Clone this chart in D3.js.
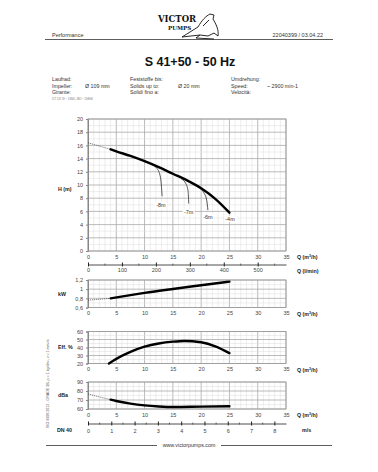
<!DOCTYPE html>
<html>
<head>
<meta charset="utf-8">
<script src="https://cdn.jsdelivr.net/npm/d3@7"></script>
<style>
  body { margin: 0; background: #fff; }
  svg { display: block; font-family: "Liberation Sans", Arial, sans-serif; }
  .tick text { fill: #444; }
</style>
</head>
<body>
<svg id="chart" width="378" height="472"></svg>
<script>
// head curve H(m) vs Q (m3/h)
const headDash = [[0, 16.4], [2, 15.9], [4, 15.4]];
const headQ = [4, 5, 7.5, 10, 12.5, 15, 17.5, 20, 22.5, 25];
const headH = [15.4, 15.1, 14.4, 13.6, 12.7, 11.7, 10.7, 9.5, 7.9, 5.8];
// suction branches
const branchLabels = ["-8m", "-7m", "-6m", "-4m"];
const branches = [
  [[11.2, 13.1], [12.2, 12.5], [12.8, 11.2], [13.0, 9.6], [13.1, 8.3]],
  [[16.5, 10.9], [17.3, 10.2], [17.7, 9.0], [17.8, 7.2]],
  [[19.7, 9.5], [20.5, 8.8], [21.0, 7.6], [21.2, 6.2]]
];
const branchLabelPos = [[12.9, 6.6], [17.8, 5.6], [21.2, 4.8], [25.1, 4.6]];
// power kW
const kwDash = [[0, 0.76], [2, 0.78], [4, 0.80]];
const kwQ = [4, 10, 15, 20, 25];
const kwV = [0.80, 0.92, 1.005, 1.085, 1.165];
// efficiency %
const effQ = [3.7, 5, 7.5, 10, 12.5, 15, 17, 20, 22.5, 25];
const effV = [20, 25.8, 34.5, 41, 45, 47.3, 48.2, 46.5, 41.5, 33];
// noise dBa
const dbDash = [[0, 76.7], [2, 73.5], [4, 70.4]];
const dbQ = [4, 5, 7.5, 10, 12.5, 15, 20, 25];
const dbV = [70.4, 68.9, 66.0, 64.0, 62.8, 62.2, 62.6, 63.0];

const qTicks = [0, 5, 10, 15, 20, 25, 30, 35];
const lminTicks = [0, 100, 200, 300, 400, 500];
const msTicks = [0, 1, 2, 3, 4, 5, 6, 7, 8];

const svg = d3.select("#chart");
const L = 88, R = 286;
const x = d3.scaleLinear().domain([0, 35]).range([L, R]);

function txt(g, x0, y0, s, size, opts = {}) {
  return g.append("text").attr("x", x0).attr("y", y0).attr("font-size", size)
    .attr("fill", opts.fill || "#222").attr("font-weight", opts.bold ? "bold" : null)
    .attr("text-anchor", opts.anchor || "start").text(s);
}

// header
txt(svg, 52, 37, "Performance", 5.5, {fill: "#333"});
txt(svg, 323, 37, "22040399 /  03.04.22", 5.5, {fill: "#333", anchor: "end"});
svg.append("line").attr("x1", 45).attr("x2", 333).attr("y1", 39.5).attr("y2", 39.5)
  .attr("stroke", "#333").attr("stroke-width", 0.8);
svg.append("text").attr("x", 158).attr("y", 22).attr("font-family", "DejaVu Serif")
  .attr("font-weight", "bold").attr("font-size", 8.5).attr("fill", "#111").text("VICTOR");
svg.append("text").attr("x", 168).attr("y", 30).attr("font-family", "DejaVu Serif")
  .attr("font-weight", "bold").attr("font-size", 5.5).attr("fill", "#111").text("PUMPS");
// bird sketch
svg.append("path")
  .attr("d", "M182,37 L198,27 C202,20 206,16 210,14 L214,15 L213,19 C216,24 219,30 218,36 L214,33 L208,36 L200,35 Z M200,35 L196,38 L214,39 M209,20 L203,26")
  .attr("fill", "none").attr("stroke", "#111").attr("stroke-width", 0.9);

txt(svg, 190, 66, "S 41+50 - 50 Hz", 12.5, {bold: true, anchor: "middle", fill: "#111"});

const info = [
  [52, 81, "Laufrad:"], [52, 87.5, "Impeller:"], [85, 87.5, "Ø 109 mm"], [52, 94, "Girante:"],
  [130, 81, "Feststoffe bis:"], [130, 87.5, "Solids up to:"], [178, 87.5, "Ø 20 mm"], [130, 94, "Solidi fino a:"],
  [231, 81, "Umdrehung:"], [231, 87.5, "Speed:"], [267, 87.5, "~ 2900 min-1"], [231, 94, "Velocità:"]
];
info.forEach(d => txt(svg, d[0], d[1], d[2], 5.3, {fill: "#333"}));
txt(svg, 52, 99.5, "ICT 131 59 ~ 19840, 2BO ~ 20BGK", 2.6, {fill: "#777"});

// generic panel
function panel(top, bottom, domain, yTicks, minorStep, xMinor, yFmt, label, labelY) {
  const y = d3.scaleLinear().domain(domain).range([bottom, top]);
  const g = svg.append("g");
  const minorY = d3.range(domain[0], domain[1] + 1e-9, minorStep);
  g.selectAll(".mx").data(d3.range(0, 35.01, xMinor)).join("line")
    .attr("x1", d => x(d)).attr("x2", d => x(d)).attr("y1", top).attr("y2", bottom)
    .attr("stroke", d => d % 5 === 0 ? "#aaa" : "#ddd").attr("stroke-width", d => d % 5 === 0 ? 0.8 : 0.5);
  g.selectAll(".my").data(minorY).join("line")
    .attr("y1", d => y(d)).attr("y2", d => y(d)).attr("x1", L).attr("x2", R)
    .attr("stroke", d => yTicks.some(t => Math.abs(t - d) < 1e-6) ? "#aaa" : "#ddd")
    .attr("stroke-width", d => yTicks.some(t => Math.abs(t - d) < 1e-6) ? 0.8 : 0.5);
  g.append("rect").attr("x", L).attr("y", top).attr("width", R - L).attr("height", bottom - top)
    .attr("fill", "none").attr("stroke", "#999").attr("stroke-width", 0.8);
  const ya = g.append("g").attr("transform", `translate(${L},0)`)
    .call(d3.axisLeft(y).tickValues(yTicks).tickFormat(yFmt).tickSize(2).tickPadding(3));
  ya.select(".domain").attr("stroke", "#888");
  ya.selectAll(".tick line").attr("stroke", "#888");
  ya.selectAll("text").attr("font-size", 5.5).attr("font-family", "Liberation Sans, Arial");
  const xa = g.append("g").attr("transform", `translate(0,${bottom})`)
    .call(d3.axisBottom(x).tickValues(qTicks).tickSize(0).tickPadding(4));
  xa.select(".domain").remove();
  xa.selectAll("text").attr("font-size", 5.5).attr("font-family", "Liberation Sans, Arial");
  txt(g, 58, labelY, label, 5.3, {bold: true, fill: "#222"});
  const ql = g.append("text").attr("x", 297).attr("y", bottom + 8).attr("font-size", 5.3)
    .attr("font-weight", "bold").attr("fill", "#222");
  ql.append("tspan").text("Q (m");
  ql.append("tspan").attr("font-size", 3.5).attr("dy", -2).text("3");
  ql.append("tspan").attr("dy", 2).text("/h)");
  return y;
}

function curves(y, dash, qs, vs) {
  const line = d3.line().x(d => x(d[0])).y(d => y(d[1])).curve(d3.curveMonotoneX);
  if (dash) svg.append("path").attr("d", line(dash)).attr("fill", "none")
    .attr("stroke", "#333").attr("stroke-width", 0.6).attr("stroke-dasharray", "1.2,0.8");
  svg.append("path").attr("d", line(qs.map((q, i) => [q, vs[i]]))).attr("fill", "none")
    .attr("stroke", "#000").attr("stroke-width", 2.4).attr("stroke-linecap", "round");
  return line;
}

// main H chart
const yH = panel(119, 251, [0, 20], d3.range(0, 21, 2), 1, 1, d3.format("d"), "H (m)", 191);
const hl = curves(yH, headDash, headQ, headH);
branches.forEach(b => svg.append("path").attr("d", hl(b)).attr("fill", "none")
  .attr("stroke", "#111").attr("stroke-width", 0.7));
branchLabels.forEach((s, i) => {
  const p = branchLabelPos[i];
  svg.append("rect").attr("x", x(p[0]) - 6).attr("y", yH(p[1]) - 5).attr("width", 12).attr("height", 6.5).attr("fill", "#fff");
  txt(svg, x(p[0]), yH(p[1]), s, 5.5, {anchor: "middle", fill: "#333"});
});

// l/min axis
const xl = d3.scaleLinear().domain([0, 35 * 1000 / 60]).range([L, R]);
const la = svg.append("g").attr("transform", "translate(0,264.5)")
  .call(d3.axisBottom(xl).tickValues(lminTicks).tickSize(2).tickSizeOuter(0).tickPadding(2));
la.select(".domain").attr("stroke", "#222").attr("stroke-width", 0.8);
la.selectAll(".tick line").attr("y1", -2).attr("stroke", "#222");
la.selectAll("text").attr("font-size", 5.5).attr("font-family", "Liberation Sans, Arial");
la.selectAll(".mn").data(d3.range(50, 583, 100)).join("line")
  .attr("x1", d => xl(d)).attr("x2", d => xl(d)).attr("y1", -1).attr("y2", 1).attr("stroke", "#222").attr("stroke-width", 0.6);
txt(svg, 297, 272.5, "Q (l/min)", 5.3, {bold: true, fill: "#222"});

// kW
const yK = panel(280, 307.5, [0.6, 1.2], [0.6, 0.8, 1, 1.2], 0.1, 1, d => d3.format(".1f")(d).replace(".", ",").replace(",0", ""), "kW", 296);
curves(yK, kwDash, kwQ, kwV);

// efficiency
const yE = panel(331.5, 363.5, [20, 60], [20, 30, 40, 50, 60], 5, 1, d3.format("d"), "Eff. %", 349);
curves(yE, null, effQ, effV);

// noise
const yD = panel(382, 409, [60, 90], [60, 70, 80, 90], 5, 1, d3.format("d"), "dBa", 397);
curves(yD, dbDash, dbQ, dbV);

// velocity axis
const xm = d3.scaleLinear().domain([0, 8.5]).range([L, R]);
const ma = svg.append("g").attr("transform", "translate(0,423.5)")
  .call(d3.axisBottom(xm).tickValues(msTicks).tickSize(2).tickSizeOuter(0).tickPadding(4));
ma.select(".domain").attr("stroke", "#222").attr("stroke-width", 0.8);
ma.selectAll(".tick line").attr("y1", -2).attr("stroke", "#222");
ma.selectAll("text").attr("font-size", 5.5).attr("font-family", "Liberation Sans, Arial");
ma.selectAll(".mn").data(d3.range(0.5, 8.5, 1)).join("line")
  .attr("x1", d => xm(d)).attr("x2", d => xm(d)).attr("y1", -1).attr("y2", 1).attr("stroke", "#222").attr("stroke-width", 0.6);
txt(svg, 57, 432, "DN 40", 5.3, {bold: true, fill: "#222"});
txt(svg, 302, 432, "m/s", 5.3, {bold: true, fill: "#222"});

// side note
svg.append("text").attr("transform", "translate(48.5,428) rotate(-90)").attr("font-size", 3.6)
  .attr("fill", "#555").text("ISO 9906:2012 - GRADE 3B, ρ = 1 kg/dm³, ν = 1 mm²/s");

// footer
svg.append("line").attr("x1", 46).attr("x2", 157).attr("y1", 445.5).attr("y2", 445.5).attr("stroke", "#333").attr("stroke-width", 0.8);
svg.append("line").attr("x1", 221).attr("x2", 332).attr("y1", 445.5).attr("y2", 445.5).attr("stroke", "#333").attr("stroke-width", 0.8);
txt(svg, 189, 447, "www.victorpumps.com", 5.3, {anchor: "middle", fill: "#333"});
</script>
</body>
</html>
